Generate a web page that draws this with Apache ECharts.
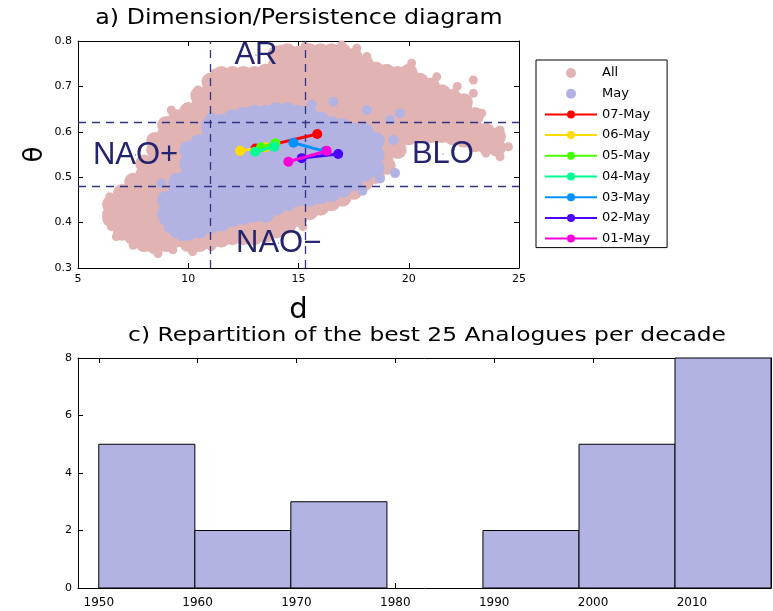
<!DOCTYPE html>
<html>
<head>
<meta charset="utf-8">
<script src="https://cdn.jsdelivr.net/npm/echarts@6/dist/echarts.min.js"></script>
<style>html,body{margin:0;padding:0;background:#fff}#c{width:773px;height:611px}</style>
</head>
<body>
<div id="c"></div>
<script>
// ---------- DATA ----------
// "All" days cloud: columns of (d, list of theta)
const allCloudCols = [
 [6.5,[0.41,0.44]],
 [7.0,[0.38,0.41,0.44,0.465]],
 [7.5,[0.37,0.40,0.43,0.46,0.49]],
 [8.0,[0.355,0.385,0.415,0.445,0.475,0.505,0.53]],
 [8.5,[0.35,0.38,0.41,0.44,0.47,0.50,0.53,0.56,0.58]],
 [9.0,[0.355,0.385,0.415,0.445,0.475,0.505,0.535,0.565,0.595,0.615]],
 [9.5,[0.365,0.395,0.425,0.455,0.485,0.515,0.545,0.575,0.605,0.63]],
 [10.0,[0.355,0.385,0.415,0.445,0.475,0.505,0.535,0.565,0.595,0.625,0.645]],
 [10.5,[0.355,0.385,0.415,0.445,0.475,0.505,0.535,0.565,0.595,0.625,0.655,0.68]],
 [11.0,[0.36,0.39,0.42,0.45,0.48,0.51,0.54,0.57,0.60,0.63,0.66,0.69,0.71]],
 [11.5,[0.365,0.395,0.425,0.455,0.485,0.515,0.545,0.575,0.605,0.635,0.665,0.695,0.725]],
 [12.0,[0.37,0.40,0.43,0.46,0.49,0.52,0.55,0.58,0.61,0.64,0.67,0.70,0.725]],
 [12.5,[0.37,0.40,0.43,0.46,0.49,0.52,0.55,0.58,0.61,0.64,0.67,0.70,0.725]],
 [13.0,[0.37,0.40,0.43,0.46,0.49,0.52,0.55,0.58,0.61,0.64,0.67,0.70,0.725]],
 [13.5,[0.375,0.405,0.435,0.465,0.495,0.525,0.555,0.585,0.615,0.645,0.675,0.705,0.73]],
 [14.0,[0.385,0.415,0.445,0.475,0.505,0.535,0.565,0.595,0.625,0.655,0.685,0.715,0.745,0.77]],
 [14.5,[0.395,0.425,0.455,0.485,0.515,0.545,0.575,0.605,0.635,0.665,0.695,0.725,0.755,0.775]],
 [15.0,[0.41,0.44,0.47,0.50,0.53,0.56,0.59,0.62,0.65,0.68,0.71,0.74,0.77]],
 [15.5,[0.425,0.455,0.485,0.515,0.545,0.575,0.605,0.635,0.665,0.695,0.725,0.755,0.775]],
 [16.0,[0.435,0.465,0.495,0.525,0.555,0.585,0.615,0.645,0.675,0.705,0.735,0.765,0.775]],
 [16.5,[0.445,0.475,0.505,0.535,0.565,0.595,0.625,0.655,0.685,0.715,0.745,0.775]],
 [17.0,[0.455,0.485,0.515,0.545,0.575,0.605,0.635,0.665,0.695,0.725,0.755,0.775]],
 [17.5,[0.47,0.50,0.53,0.56,0.59,0.62,0.65,0.68,0.71,0.74,0.765]],
 [18.0,[0.49,0.52,0.55,0.58,0.61,0.64,0.67,0.70,0.73,0.75]],
 [18.5,[0.505,0.535,0.565,0.595,0.625,0.655,0.685,0.715,0.735]],
 [19.0,[0.525,0.555,0.585,0.615,0.645,0.675,0.705,0.73]],
 [19.5,[0.56,0.59,0.62,0.65,0.68,0.71,0.725]],
 [20.0,[0.59,0.62,0.65,0.68,0.71,0.73]],
 [20.5,[0.595,0.625,0.655,0.685,0.71]],
 [21.0,[0.595,0.625,0.655,0.685,0.70]],
 [21.5,[0.595,0.625,0.655,0.685]],
 [22.0,[0.59,0.62,0.65,0.675]],
 [22.5,[0.585,0.615,0.645,0.665]],
 [23.0,[0.575,0.605,0.635]],
 [23.5,[0.57,0.60]],
 [24.0,[0.565,0.59]]
];
// scattered "All" points at the edges of the cloud
const allEdgePoints = [
 [6.44,0.457],[6.3,0.42],[6.51,0.391],[6.74,0.369],[7.5,0.35],[8.63,0.332],[9.3,0.34],[10.2,0.336],
 [9.23,0.648],[9.99,0.655],[10.44,0.692],[11.2,0.729],[14.2,0.782],[15.3,0.788],[16.96,0.791],
 [17.64,0.784],[18.1,0.766],[20.13,0.751],[21.27,0.721],[22.2,0.70],[22.93,0.714],[22.93,0.685],
 [23.31,0.641],[24.14,0.604],[24.52,0.567],[24.14,0.545],[23.5,0.553],[15.2,0.391],[14.07,0.391],[11.05,0.347]
];
// "May" days cloud
const mayCloudCols = [
 [9.0,[0.42,0.45]],
 [9.5,[0.385,0.415,0.445,0.475,0.49]],
 [10.0,[0.38,0.41,0.44,0.47,0.50,0.53,0.56]],
 [10.5,[0.385,0.415,0.445,0.475,0.505,0.535,0.565,0.575]],
 [11.0,[0.395,0.425,0.455,0.485,0.515,0.545,0.575,0.605,0.615]],
 [11.5,[0.40,0.43,0.46,0.49,0.52,0.55,0.58,0.61,0.62]],
 [12.0,[0.41,0.44,0.47,0.50,0.53,0.56,0.59,0.62,0.63]],
 [12.5,[0.415,0.445,0.475,0.505,0.535,0.565,0.595,0.625,0.635]],
 [13.0,[0.42,0.45,0.48,0.51,0.54,0.57,0.60,0.63,0.64]],
 [13.5,[0.42,0.45,0.48,0.51,0.54,0.57,0.60,0.63,0.64]],
 [14.0,[0.435,0.465,0.495,0.525,0.555,0.585,0.615,0.645]],
 [14.5,[0.445,0.475,0.505,0.535,0.565,0.595,0.625,0.645]],
 [15.0,[0.455,0.485,0.515,0.545,0.575,0.605,0.635,0.64]],
 [15.5,[0.455,0.485,0.515,0.545,0.575,0.605,0.635]],
 [16.0,[0.46,0.49,0.52,0.55,0.58,0.61,0.625]],
 [16.5,[0.465,0.495,0.525,0.555,0.585,0.615]],
 [17.0,[0.475,0.505,0.535,0.565,0.595,0.61]],
 [17.5,[0.49,0.52,0.55,0.58,0.60]],
 [18.0,[0.51,0.54,0.57,0.60]],
 [18.5,[0.52,0.55,0.58]]
];
const mayEdgePoints = [
 [8.78,0.486],[8.93,0.405],[9.1,0.39],[11.05,0.632],[16.58,0.666],[18.1,0.648],[19.6,0.641],
 [19.15,0.626],[19.3,0.582],[19.38,0.509],[18.7,0.497],[17.9,0.47],[15.6,0.66],[9.7,0.37]
];
// regime labels
const regionNames = ['AR','NAO+','BLO','NAO\u2212'];
const regionD = [13.07, 7.61, 21.55, 14.1];
const regionTheta = [0.769, 0.549, 0.551, 0.355];
// regime thresholds (dashed lines)
const thresholdD = [11.0, 15.3];
const thresholdTheta = [0.617, 0.478];
// daily trajectories
const dayNames = ['07-May','06-May','05-May','04-May','03-May','02-May','01-May'];
const dayColors = ['#ff0000','#ffdb00','#49ff00','#00ff92','#0092ff','#4900ff','#ff00db'];
const dayD = [[13.05,15.85],[12.35,13.5],[13.3,13.95],[13.03,13.9],[14.77,16.2],[15.15,16.8],[14.54,16.28]];
const dayTheta = [[0.563,0.595],[0.558,0.566],[0.566,0.575],[0.556,0.567],[0.576,0.557],[0.542,0.551],[0.534,0.558]];
// histogram of analogues per decade
const binEdges = [1950, 1959.72, 1969.43, 1979.15, 1988.86, 1998.58, 2008.29, 2018];
const binCounts = [5, 2, 3, 0, 2, 5, 8];
const decadeTicks = [1950, 1960, 1970, 1980, 1990, 2000, 2010];
const countTicks = [0, 2, 4, 6, 8];
const dTicks = [5, 10, 15, 20, 25];
const thetaTicks = [0.3, 0.4, 0.5, 0.6, 0.7, 0.8];

// ---------- build ----------
const flatten = cols => cols.flatMap(([d, ts]) => ts.map(t => [d, t]));
const PINK = '#e2b3b3', LAV = '#b3b3e3', NAVY = '#24246e';
const FONT = '"DejaVu Sans", "Liberation Sans", sans-serif';

const chart = echarts.init(document.getElementById('c'), null, {renderer: 'canvas'});

const tickStyle = {show: true, inside: true, length: 5, lineStyle: {color: '#000', width: 1}};
const lineStyle = {show: true, onZero: false, lineStyle: {color: '#000', width: 1}};

const series = [
 {name: 'All', type: 'scatter', xAxisIndex: 0, yAxisIndex: 0, data: flatten(allCloudCols),
  symbol: 'circle', symbolSize: 18, itemStyle: {color: PINK, opacity: 1}, silent: true, z: 2},
 {name: 'All', type: 'scatter', xAxisIndex: 0, yAxisIndex: 0, data: allEdgePoints,
  symbol: 'circle', symbolSize: 9, itemStyle: {color: PINK, opacity: 1}, silent: true, z: 2},
 {name: 'May', type: 'scatter', xAxisIndex: 0, yAxisIndex: 0, data: flatten(mayCloudCols),
  symbol: 'circle', symbolSize: 18, itemStyle: {color: LAV, opacity: 1}, silent: true, z: 3},
 {name: 'May', type: 'scatter', xAxisIndex: 0, yAxisIndex: 0, data: mayEdgePoints,
  symbol: 'circle', symbolSize: 10, itemStyle: {color: LAV, opacity: 1}, silent: true, z: 3},
 {name: 'regimes', type: 'scatter', xAxisIndex: 0, yAxisIndex: 0, z: 4, silent: true,
  data: regionNames.map((n, i) => [regionD[i], regionTheta[i], n]),
  symbolSize: 1, itemStyle: {color: NAVY, opacity: 1},
  label: {show: true, position: 'inside', formatter: p => p.value[2], color: NAVY, opacity: 1,
          textBorderWidth: 0, fontSize: 31, fontFamily: '"Liberation Sans", Arial, sans-serif'},
  markLine: {silent: true, symbol: ['none', 'none'], label: {show: false},
    lineStyle: {color: '#33347f', width: 1.3, type: [8, 6], opacity: 1},
    data: thresholdD.map(v => ({xAxis: v})).concat(thresholdTheta.map(v => ({yAxis: v})))}
 }
];
dayNames.forEach((n, i) => {
 series.push({name: n, type: 'line', xAxisIndex: 0, yAxisIndex: 0, z: 5 + i,
  data: dayD[i].map((d, k) => [d, dayTheta[i][k]]),
  symbol: 'circle', symbolSize: 10, showSymbol: true,
  lineStyle: {color: dayColors[i], width: 3}, itemStyle: {color: dayColors[i]}});
});
series.push({name: 'decades', type: 'custom', xAxisIndex: 2, yAxisIndex: 2, z: 3,
 data: binCounts.map((c, i) => [binEdges[i], binEdges[i + 1], c]),
 renderItem: (params, api) => {
   const h = api.value(2);
   if (!h) return null;
   const p0 = api.coord([api.value(0), h]);
   const p1 = api.coord([api.value(1), 0]);
   return {type: 'rect', shape: {x: p0[0], y: p0[1], width: p1[0] - p0[0], height: p1[1] - p0[1]},
           style: {fill: LAV, stroke: '#000', lineWidth: 1}};
 }});

const option = {
 backgroundColor: '#fff',
 animation: false,
 textStyle: {fontFamily: FONT},
 grid: [
  {left: 78, right: 254, top: 41, bottom: 343},
  {left: 78, right: 2, top: 358, bottom: 23}
 ],
 xAxis: [
  {gridIndex: 0, type: 'value', min: 5, max: 25, interval: 5, position: 'bottom',
   axisLine: lineStyle, axisTick: tickStyle, splitLine: {show: false},
   axisLabel: {fontSize: 11, color: '#000', margin: 6, fontFamily: FONT},
   name: 'd', nameLocation: 'middle', nameGap: 28, nameMoveOverlap: false,
   nameTextStyle: {fontSize: 29, color: '#000', fontFamily: FONT}},
  {gridIndex: 0, type: 'value', min: 5, max: 25, interval: 5, position: 'top',
   axisLine: lineStyle, axisTick: tickStyle, splitLine: {show: false}, axisLabel: {show: false}},
  {gridIndex: 1, type: 'value', min: 1947.9, max: 2018, position: 'bottom',
   axisLine: lineStyle, axisTick: Object.assign({customValues: decadeTicks}, tickStyle), splitLine: {show: false},
   axisLabel: {customValues: decadeTicks, fontSize: 12, color: '#000', margin: 9, fontFamily: FONT,
               formatter: v => String(Math.round(v))}},
  {gridIndex: 1, type: 'value', min: 1947.9, max: 2018, position: 'top',
   axisLine: lineStyle, axisTick: Object.assign({customValues: decadeTicks}, tickStyle), splitLine: {show: false},
   axisLabel: {show: false}}
 ],
 yAxis: [
  {gridIndex: 0, type: 'value', min: 0.3, max: 0.8, position: 'left',
   axisLine: lineStyle, axisTick: Object.assign({customValues: thetaTicks}, tickStyle), splitLine: {show: false},
   axisLabel: {customValues: thetaTicks, fontSize: 11, color: '#000', margin: 6, fontFamily: FONT,
               formatter: v => v.toFixed(1)},
   name: '\u03B8', nameLocation: 'middle', nameGap: 30, nameRotate: 90, nameMoveOverlap: false,
   nameTextStyle: {fontSize: 26, color: '#000', fontFamily: FONT}},
  {gridIndex: 0, type: 'value', min: 0.3, max: 0.8, position: 'right',
   axisLine: lineStyle, axisTick: Object.assign({customValues: thetaTicks}, tickStyle), splitLine: {show: false},
   axisLabel: {show: false}},
  {gridIndex: 1, type: 'value', min: 0, max: 8, position: 'left',
   axisLine: lineStyle, axisTick: Object.assign({customValues: countTicks}, tickStyle), splitLine: {show: false},
   axisLabel: {customValues: countTicks, fontSize: 11, color: '#000', margin: 6, fontFamily: FONT}},
  {gridIndex: 1, type: 'value', min: 0, max: 8, position: 'right',
   axisLine: lineStyle, axisTick: Object.assign({customValues: countTicks}, tickStyle), splitLine: {show: false},
   axisLabel: {show: false}}
 ],
 legend: {
  orient: 'vertical', left: 536, top: 60,
  data: [{name: 'All', icon: 'circle'}, {name: 'May', icon: 'circle'}].concat(dayNames),
  itemWidth: 52, itemHeight: 10, itemGap: 6.7,
  padding: [6, 17, 2, 8],
  borderColor: '#000', borderWidth: 1, backgroundColor: '#fff',
  textStyle: {fontSize: 13, color: '#000', fontFamily: FONT, lineHeight: 14},
  selectedMode: false
 },
 graphic: [
  {type: 'text', x: 299, y: 19, scaleX: 1.13, silent: true,
   style: {text: 'a) Dimension/Persistence diagram', font: '21px "DejaVu Sans"', fill: '#000',
           textAlign: 'center', textVerticalAlign: 'middle'}},
  {type: 'text', x: 427, y: 336, scaleX: 1.23, silent: true,
   style: {text: 'c) Repartition of the best 25 Analogues per decade', font: '19px "DejaVu Sans"', fill: '#000',
           textAlign: 'center', textVerticalAlign: 'middle'}}
 ],
 series: series
};
chart.setOption(option);
</script>
</body>
</html>
